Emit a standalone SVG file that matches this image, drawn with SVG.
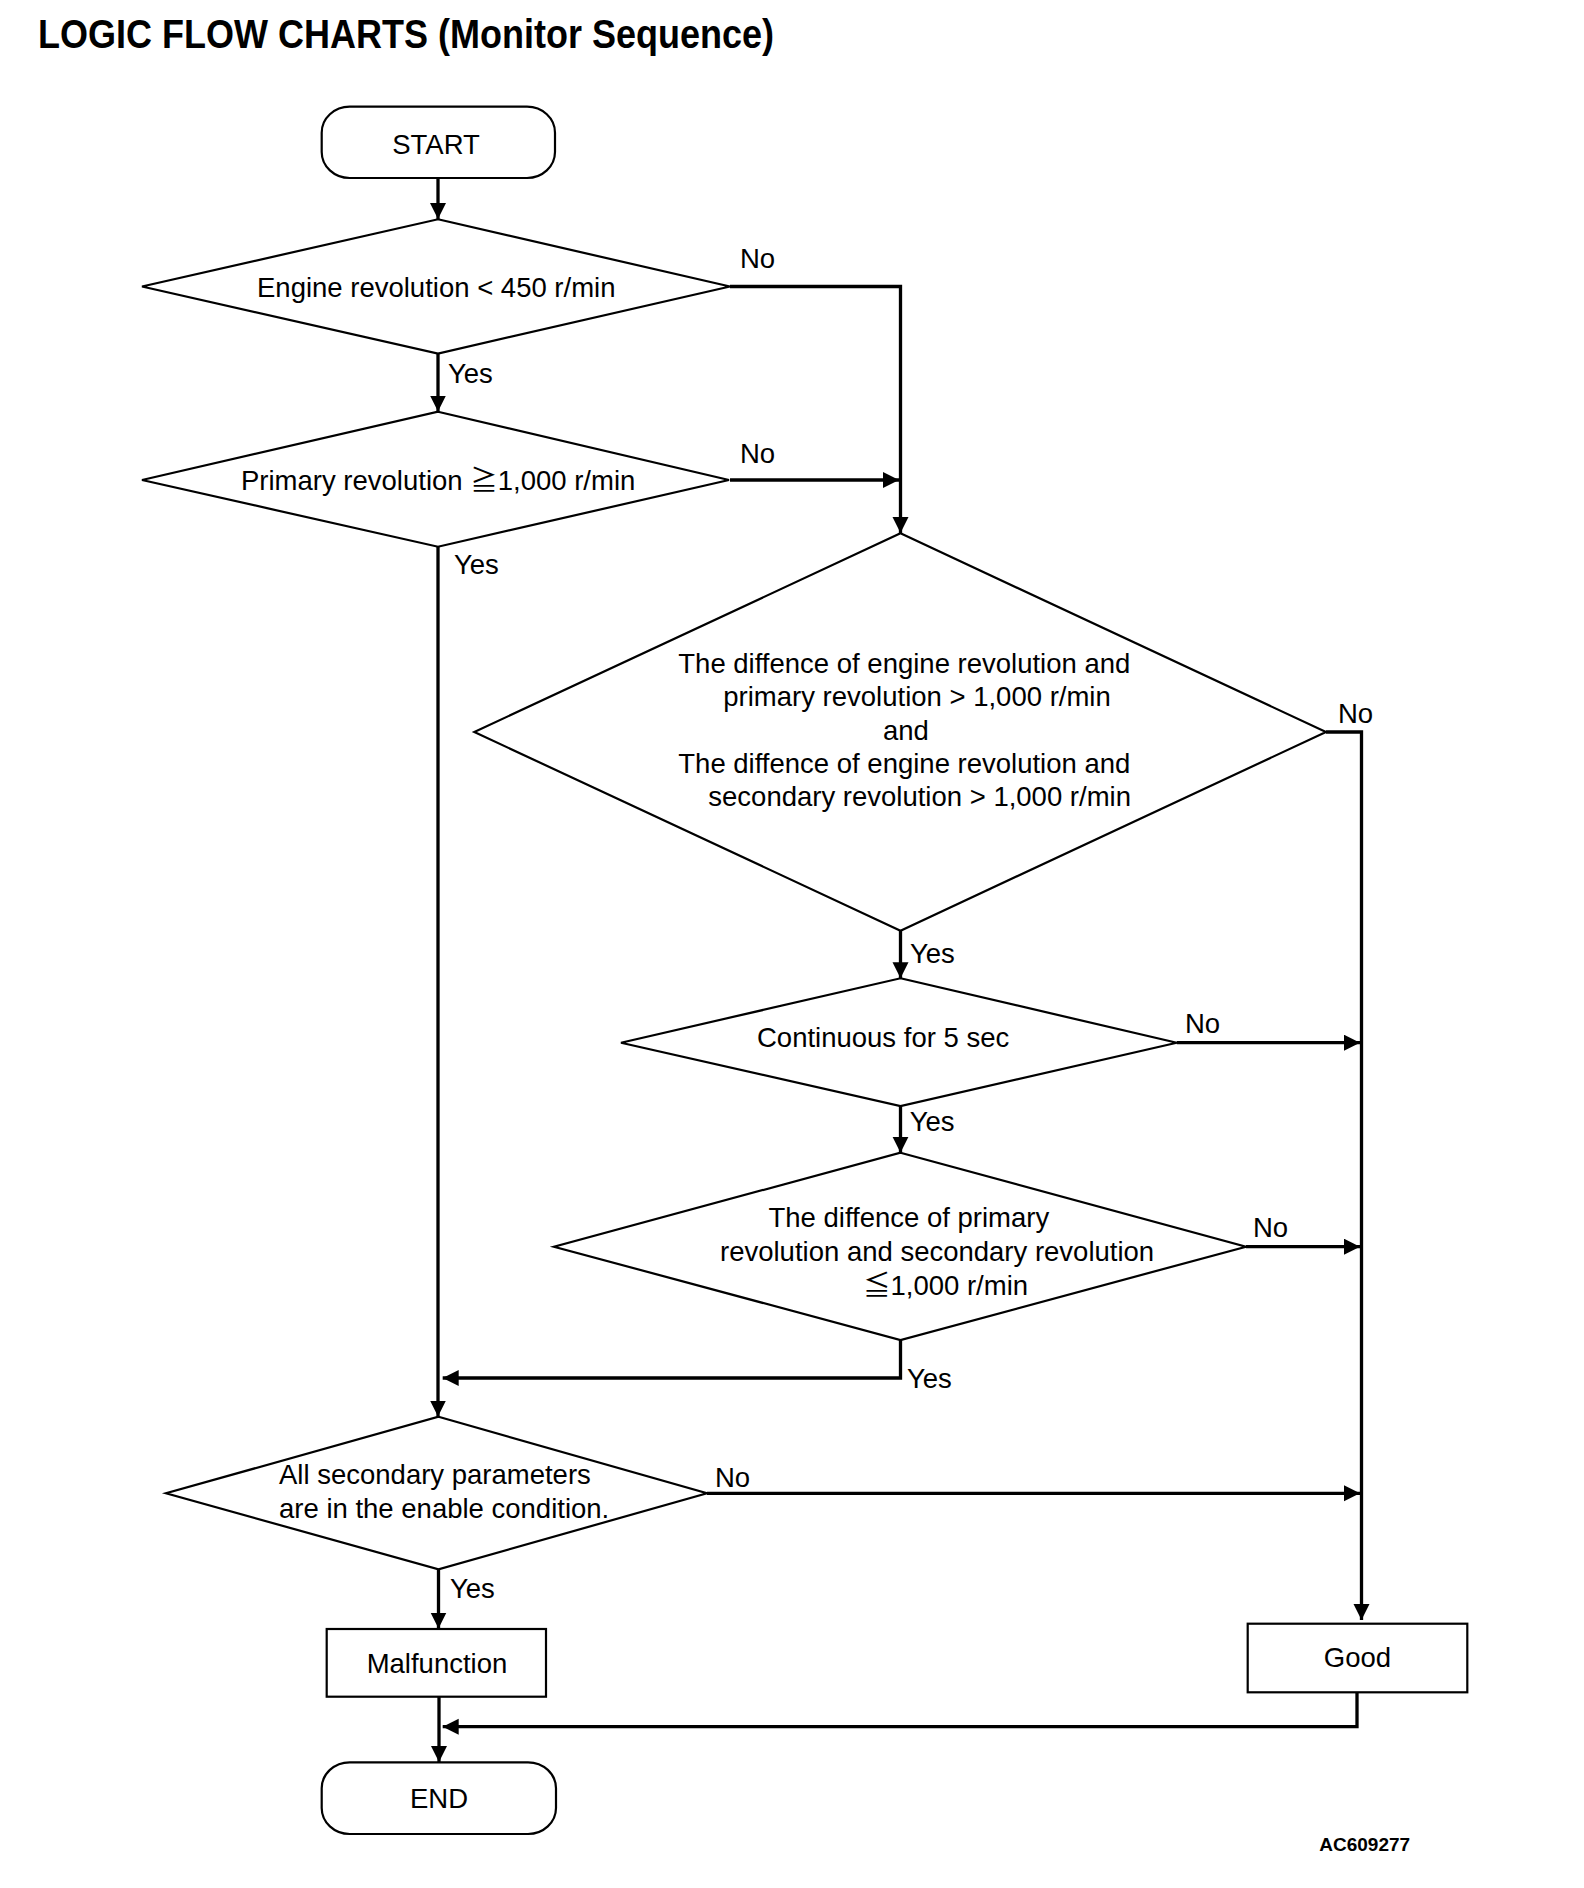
<svg xmlns="http://www.w3.org/2000/svg" width="1584" height="1888" viewBox="0 0 1584 1888">
<style>
text{font-family:"Liberation Sans","Noto Sans CJK JP",Arial,sans-serif;font-size:27.5px;fill:#000}
.title{font-weight:bold;font-size:41px}
.code{font-weight:bold;font-size:19px}
.shape{fill:#fff;stroke:#000;stroke-width:2.2}
.conn{fill:none;stroke:#000;stroke-width:3.3;stroke-linejoin:miter}
.mid{text-anchor:middle}
</style>
<defs>
<marker id="arr" markerUnits="userSpaceOnUse" markerWidth="17" markerHeight="17" refX="16" refY="8" orient="auto">
<path d="M0,0 L16,8 L0,16 Z" fill="#000"/>
</marker>
</defs>
<rect width="1584" height="1888" fill="#fff"/>
<text class="title" x="38" y="48" textLength="736" lengthAdjust="spacingAndGlyphs">LOGIC FLOW CHARTS (Monitor Sequence)</text>

<g id="connectors">
<path class="conn" d="M438,178 V219" marker-end="url(#arr)"/>
<path class="conn" d="M438,353.5 V411.5" marker-end="url(#arr)"/>
<path class="conn" d="M730,286.5 H900.5 V533" marker-end="url(#arr)"/>
<path class="conn" d="M730,480 H899" marker-end="url(#arr)"/>
<path class="conn" d="M438,546.7 V1416.5" marker-end="url(#arr)"/>
<path class="conn" d="M900.5,930.7 V978.3" marker-end="url(#arr)"/>
<path class="conn" d="M1326,732 H1361.5 V1620" marker-end="url(#arr)"/>
<path class="conn" d="M1176.8,1042.7 H1360" marker-end="url(#arr)"/>
<path class="conn" d="M900.5,1106 V1152.7" marker-end="url(#arr)"/>
<path class="conn" d="M1246,1246.7 H1360" marker-end="url(#arr)"/>
<path class="conn" d="M900.5,1340 V1378 H442.7" marker-end="url(#arr)"/>
<path class="conn" d="M707,1493.3 H1360" marker-end="url(#arr)"/>
<path class="conn" d="M438.5,1569.3 V1628.5" marker-end="url(#arr)"/>
<path class="conn" d="M439,1696.7 V1762" marker-end="url(#arr)"/>
<path class="conn" d="M1357,1692.3 V1726.7 H442.7" marker-end="url(#arr)"/>
</g>

<g id="labels">
<text x="740" y="268">No</text>
<text x="448" y="382.7">Yes</text>
<text x="740" y="463">No</text>
<text x="454" y="574">Yes</text>
<text x="1338" y="722.7">No</text>
<text x="910" y="963">Yes</text>
<text x="1185" y="1033">No</text>
<text x="909.7" y="1131">Yes</text>
<text x="1253" y="1237">No</text>
<text x="907" y="1388">Yes</text>
<text x="715" y="1486.7">No</text>
<text x="450" y="1597.7">Yes</text>
</g>

<g id="start">
<rect class="shape" x="321.7" y="106.7" width="233.3" height="71.3" rx="28" ry="26"/>
<text class="mid" x="436" y="154">START</text>
</g>

<g id="d1">
<polygon class="shape" points="438,219.3 730,286.5 438,353.5 142,286.5"/>
<text x="257" y="296.7">Engine revolution &lt; 450 r/min</text>
</g>

<g id="d2">
<polygon class="shape" points="438,411.7 729,480 438,546.7 142,480"/>
<text x="241" y="490">Primary revolution ≧1,000 r/min</text>
</g>

<g id="d3">
<polygon class="shape" points="900.5,533.3 1326,732 900.5,930.7 474.3,732"/>
<text x="678.3" y="672.7">The diffence of engine revolution and</text>
<text x="723.3" y="706">primary revolution &gt; 1,000 r/min</text>
<text x="883" y="739.5">and</text>
<text x="678.3" y="773.3">The diffence of engine revolution and</text>
<text x="708.3" y="806">secondary revolution &gt; 1,000 r/min</text>
</g>

<g id="d4">
<polygon class="shape" points="900.5,978.3 1176.8,1042.7 900.5,1106 621,1042.7"/>
<text x="757" y="1047">Continuous for 5 sec</text>
</g>

<g id="d5">
<polygon class="shape" points="900.5,1152.7 1246,1246.7 900.5,1340 554,1246.7"/>
<text x="768.5" y="1227">The diffence of primary</text>
<text x="720" y="1261">revolution and secondary revolution</text>
<text x="863" y="1295">≦1,000 r/min</text>
</g>

<g id="d6">
<polygon class="shape" points="438.5,1416.7 707,1493.3 438.5,1569.3 166,1493.3"/>
<text x="279" y="1484">All secondary parameters</text>
<text x="279" y="1518.3">are in the enable condition.</text>
</g>

<g id="malfunction">
<rect class="shape" x="326.7" y="1629" width="219.3" height="67.7"/>
<text class="mid" x="437" y="1672.7">Malfunction</text>
</g>

<g id="good">
<rect class="shape" x="1247.7" y="1623.7" width="219.6" height="68.6"/>
<text class="mid" x="1357.5" y="1667.3">Good</text>
</g>

<g id="end">
<rect class="shape" x="321.7" y="1762.3" width="234.3" height="71.7" rx="28" ry="26"/>
<text class="mid" x="439" y="1808.3">END</text>
</g>

<text class="code" x="1319.3" y="1850.7">AC609277</text>
</svg>
